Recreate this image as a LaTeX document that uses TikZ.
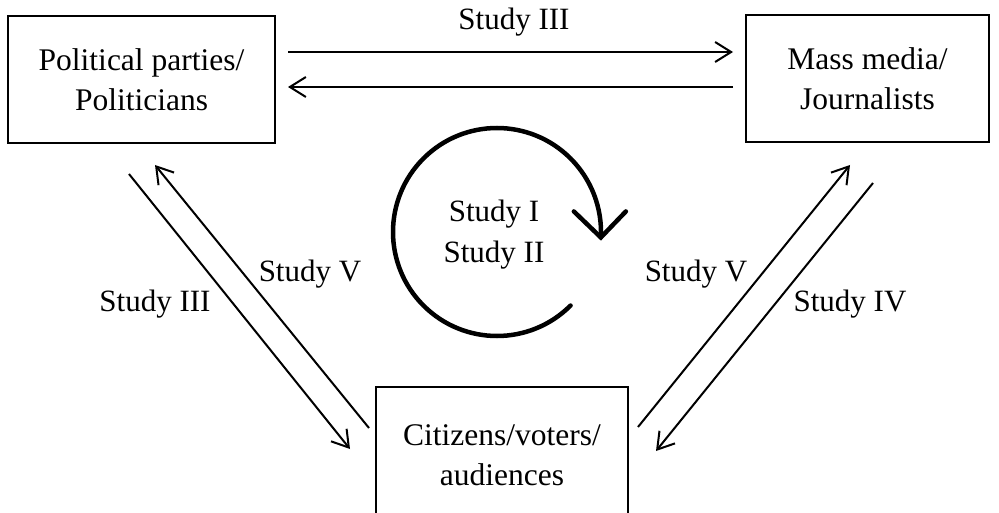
\documentclass[tikz,border=0pt]{standalone}
\usepackage{fontspec}
\setmainfont{Liberation Serif}
\usetikzlibrary{arrows.meta,calc}
\begin{document}
\begin{tikzpicture}[x=1pt,y=-1pt,
  box/.style={draw,line width=2.2pt,align=center,font=\fontsize{31.5}{40}\selectfont,inner sep=0pt},
  lbl/.style={font=\fontsize{31}{40}\selectfont,inner sep=0pt,anchor=base},
  conn/.style={line width=2pt,-{Straight Barb[length=16pt,width=20pt,line width=2pt]}}]
\useasboundingbox (0,0) rectangle (999,513);
\clip (0,0) rectangle (999,513);
% boxes
\node[box,minimum width=267pt,minimum height=127pt] (pol) at (141.5,79.5) {Political parties/\\Politicians};
\node[box,minimum width=243pt,minimum height=127pt] (med) at (867.5,78.5) {Mass media/\\Journalists};
\node[box,minimum width=252pt,minimum height=136pt] (cit) at (502,455) {Citizens/voters/\\audiences};
% endpoints
\coordinate (a1) at (288,52);  \coordinate (a2) at (733,52);
\coordinate (b1) at (733,87);  \coordinate (b2) at (288,87);
\coordinate (c1) at (129,174); \coordinate (c2) at (350,449);
\coordinate (d1) at (369,428); \coordinate (d2) at (155,165);
\coordinate (e1) at (638,427); \coordinate (e2) at (850,165);
\coordinate (f1) at (873,183); \coordinate (f2) at (656,451);
\draw[conn] (a1) -- (a2);
\draw[conn] (b1) -- (b2);
\draw[conn] (c1) -- (c2);
\draw[conn] (d1) -- (d2);
\draw[conn] (e1) -- (e2);
\draw[conn] (f1) -- (f2);
% labels
\node[lbl] (l1) at (514,30) {Study III};
\node[lbl] (l2) at (310,282) {Study V};
\node[lbl] (l3) at (155,312) {Study III};
\node[lbl] (l4) at (696,282) {Study V};
\node[lbl] (l5) at (850,312) {Study IV};
% cycle
\coordinate (cc) at (497,232);
\draw[line width=4.5pt,line cap=round] ($(cc)+(45:104)$) arc (45:363:104);
\coordinate (tip) at ($(cc)+(363:104)$);
\draw[line width=4.5pt,line cap=round,line join=miter] ($(tip)+(-27,-26)$) -- (tip) -- ($(tip)+(25,-26)$);
\node[lbl] (cyc1) at (494,222) {Study I};
\node[lbl] (cyc2) at (494,262) {Study II};
\end{tikzpicture}
\end{document}
